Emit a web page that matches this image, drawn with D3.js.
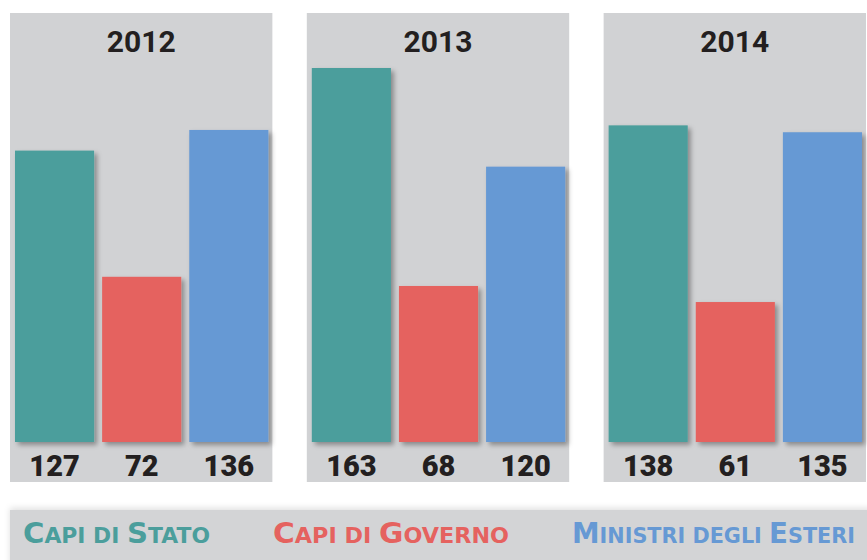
<!DOCTYPE html>
<html>
<head>
<meta charset="utf-8">
<script src="https://cdn.jsdelivr.net/npm/d3@7"></script>
<style>
  html, body { margin: 0; padding: 0; background: #fff; }
  svg { display: block; }
</style>
</head>
<body>
<svg id="chart" width="867" height="560"></svg>
<script>
// data
var years = ["2012", "2013", "2014"];
var series = ["Capi di Stato", "Capi di Governo", "Ministri degli Esteri"];
var capiStato = [127, 163, 138];
var capiGoverno = [72, 68, 61];
var ministriEsteri = [136, 120, 135];

var colors = ["#4b9e9c", "#e5625f", "#6699d4"];

var svg = d3.select("#chart");

// shadow for bars
var defs = svg.append("defs");
var f = defs.append("filter").attr("id", "shadow")
    .attr("x", "-20%").attr("y", "-20%").attr("width", "140%").attr("height", "140%");
f.append("feDropShadow").attr("dx", 3).attr("dy", 3).attr("stdDeviation", 2.5)
    .attr("flood-color", "#000").attr("flood-opacity", 0.35);
var f2 = defs.append("filter").attr("id", "bandShadow")
    .attr("x", "-5%").attr("y", "-40%").attr("width", "110%").attr("height", "180%");
f2.append("feDropShadow").attr("dx", 0).attr("dy", -2).attr("stdDeviation", 3)
    .attr("flood-color", "#000").attr("flood-opacity", 0.12);

var panelTop = 13, panelBottom = 482;

var x0 = d3.scaleBand().domain(years).range([10, 866]).paddingInner(0.116);
var x1 = d3.scaleBand().domain(series).range([5, x0.bandwidth() - 4]).paddingInner(0.092);
var y = d3.scaleLinear().domain([0, 163]).range([442, 68]);

var table = years.map(function(yr, i) {
    return { year: yr, values: [capiStato[i], capiGoverno[i], ministriEsteri[i]] };
});

var panels = svg.selectAll("g.panel").data(table).enter()
    .append("g").attr("class", "panel")
    .attr("transform", function(d) { return "translate(" + x0(d.year) + ",0)"; });

panels.append("rect")
    .attr("x", 0).attr("y", panelTop)
    .attr("width", x0.bandwidth()).attr("height", panelBottom - panelTop)
    .attr("fill", "#d1d2d4");

panels.append("text")
    .attr("x", x0.bandwidth() / 2).attr("y", 52)
    .attr("text-anchor", "middle")
    .style("font-family", "Roboto, sans-serif").style("font-weight", 700)
    .style("font-size", "30px").style("fill", "#231f20")
    .text(function(d) { return d.year; });

panels.each(function(d) {
    var g = d3.select(this);
    var vals = series.map(function(s, i) { return { s: s, v: d.values[i], c: colors[i] }; });

    g.selectAll("rect.bar").data(vals).enter().append("rect")
        .attr("class", "bar")
        .attr("x", function(e) { return x1(e.s); })
        .attr("y", function(e) { return y(e.v); })
        .attr("width", x1.bandwidth())
        .attr("height", function(e) { return y(0) - y(e.v); })
        .attr("fill", function(e) { return e.c; })
        .attr("filter", "url(#shadow)");

    g.selectAll("text.val").data(vals).enter().append("text")
        .attr("class", "val")
        .attr("x", function(e) { return x1(e.s) + x1.bandwidth() / 2; })
        .attr("y", 476)
        .attr("text-anchor", "middle")
        .style("font-family", "Roboto, sans-serif").style("font-weight", 900)
        .style("font-size", "29px").style("fill", "#231f20")
        .text(function(e) { return e.v; });
});

// legend band
svg.append("rect")
    .attr("x", 10).attr("y", 510).attr("width", 870).attr("height", 60)
    .attr("fill", "#d3d4d6").attr("filter", "url(#bandShadow)");

// small caps built by hand
var legendWidths = [187, 236, 283];
var legend = svg.selectAll("text.legend").data(series).enter()
    .append("text").attr("class", "legend")
    .attr("y", 543)
    .style("font-family", "'DejaVu Sans', sans-serif").style("font-weight", 700)
    .style("fill", function(d, i) { return colors[i]; })
    .attr("textLength", function(d, i) { return legendWidths[i]; })
    .attr("lengthAdjust", "spacingAndGlyphs");

legend.each(function(d) {
    var t = d3.select(this);
    d.split("").forEach(function(ch) {
        var big = ch !== " " && ch === ch.toUpperCase();
        t.append("tspan")
            .style("font-size", big ? "28px" : "21px")
            .text(ch === " " ? "\u00a0" : ch.toUpperCase());
    });
});

// distribute legend items between the margins
var total = d3.sum(legendWidths);
var gap = (855 - 23 - total) / 2;
var pos = 23;
legend.attr("x", function(d, i) { var p = pos; pos += legendWidths[i] + gap; return p; });
</script>
</body>
</html>
